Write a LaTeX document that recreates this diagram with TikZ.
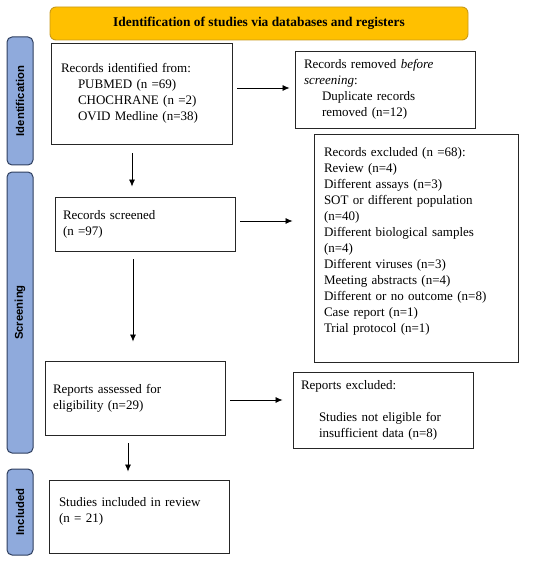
\documentclass[tikz,border=0pt]{standalone}
\usepackage{fontspec}
\setmainfont{Liberation Serif}
\setsansfont{Liberation Sans}
\usetikzlibrary{arrows.meta}
\definecolor{hdrfill}{HTML}{FFC000}
\definecolor{hdrdraw}{HTML}{C99A1A}
\definecolor{sidefill}{HTML}{8FAADC}
\definecolor{sidedraw}{HTML}{2F3F5F}
\tikzset{
  box/.style={draw=black!85, line width=0.9pt, align=left, inner xsep=#1, inner ysep=0pt,
    font=\fontsize{13}{16}\selectfont, anchor=center},
  box/.default=9pt,
  side/.style={draw=sidedraw, fill=sidefill, line width=1pt, rounded corners=5pt, rotate=90,
    minimum height=26pt, inner sep=0pt, font=\sffamily\bfseries\fontsize{11.3}{13}\selectfont},
  arr/.style={-{Latex[length=7pt,width=6pt]}, line width=0.75pt, black},
}
\begin{document}
\begin{tikzpicture}[x=1pt,y=-1pt]
\useasboundingbox (0,0) rectangle (550,564);
% header
\node[draw=hdrdraw, fill=hdrfill, line width=0.9pt, rounded corners=6pt, minimum width=418pt, minimum height=33pt,
  font=\bfseries\fontsize{13.4}{15}\selectfont] (hdr) at (259,23.5) {Identification of studies via databases and registers};
% side labels
\node[side, minimum width=128pt] (sid) at (20,101) {Identification};
\node[side, minimum width=281pt] (ssc) at (20,312.5) {Screening};
\node[side, minimum width=86pt] (sin) at (20,512) {Included};
% boxes
\node[box=10pt, minimum width=181pt, minimum height=101pt, text width=161pt] (b1) at (141.5,93.5)
 {Records identified from:\\\hspace*{17pt}PUBMED (n =69)\\\hspace*{17pt}CHOCHRANE (n =2)\\\hspace*{17pt}OVID Medline (n=38)};
\node[box=9pt, minimum width=180pt, minimum height=77pt, text width=162pt] (b2) at (385,89.5)
 {Records removed \textit{before}\\\textit{screening}:\\\hspace*{18pt}Duplicate records\\\hspace*{18pt}removed (n=12)};
\node[box=10pt, minimum width=204pt, minimum height=228pt, text width=184pt] (b3) at (416,248)
 {Records excluded (n =68):\\Review (n=4)\\Different assays (n=3)\\SOT or different population\\(n=40)\\Different biological samples\\(n=4)\\Different viruses (n=3)\\Meeting abstracts (n=4)\\Different or no outcome (n=8)\\Case report (n=1)\\Trial protocol (n=1)\\\mbox{}};
\node[box=8pt, minimum width=180pt, minimum height=54pt, text width=164pt] (b4) at (145,224)
 {Records screened\\(n =97)};
\node[box=8pt, minimum width=180pt, minimum height=74pt, text width=164pt] (b5) at (135,398)
 {Reports assessed for\\eligibility (n=29)};
\node[box=8pt, minimum width=180pt, minimum height=76pt, text width=164pt] (b6) at (383,410)
 {Reports excluded:\\\mbox{}\\\hspace*{18pt}Studies not eligible for\\\hspace*{18pt}insufficient data (n=8)};
\node[box=10pt, minimum width=180pt, minimum height=73pt, text width=160pt] (b7) at (139,516.5)
 {Studies included in review\\(n = 21)\\[-3pt]\mbox{}};
% connectors
\draw[arr, shorten <=5pt, shorten >=5pt] ([yshift=5.5pt]b1.east) -- ([yshift=5.5pt]b1.east -| b2.west);
\draw[arr, shorten <=9pt, shorten >=10pt] ([xshift=-9.5pt]b1.south) -- ([xshift=-9.5pt]b1.south |- b4.north);
\draw[arr, shorten <=5pt, shorten >=21pt] ([yshift=3pt]b4.east) -- ([yshift=3pt]b4.east -| b3.west);
\draw[arr, shorten <=8pt, shorten >=19pt] ([xshift=-12pt]b4.south) -- ([xshift=-12pt]b4.south |- b5.north);
\draw[arr, shorten <=5pt, shorten >=10pt] ([yshift=-2pt]b5.east) -- ([yshift=-2pt]b5.east -| b6.west);
\draw[arr, shorten <=8pt, shorten >=8pt] ([xshift=-7pt]b5.south) -- ([xshift=-7pt]b5.south |- b7.north);
\end{tikzpicture}
\end{document}
